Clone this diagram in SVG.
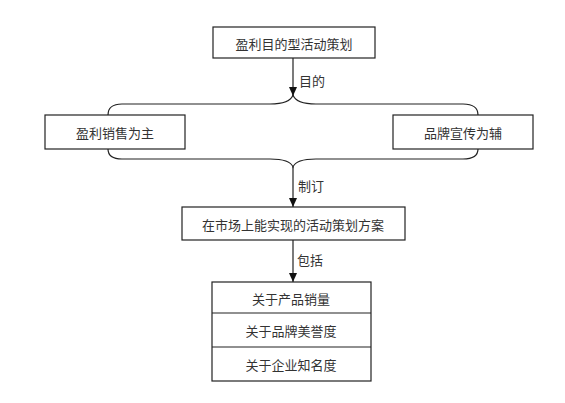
<svg xmlns="http://www.w3.org/2000/svg" width="565" height="403" viewBox="0 0 565 403">
<style>
.box{fill:#fff;stroke:#222;stroke-width:1.2}
.t{font-family:"Noto Sans CJK SC","Noto Sans",sans-serif;font-size:13px;fill:#333;text-anchor:middle;dominant-baseline:central}
.l{font-family:"Noto Sans CJK SC","Noto Sans",sans-serif;font-size:13px;fill:#333;dominant-baseline:central}
.c{fill:none;stroke:#222;stroke-width:1.2}
</style>
<defs>
<marker id="ah" markerWidth="10" markerHeight="10" refX="9" refY="5" orient="auto" markerUnits="userSpaceOnUse">
<path d="M0,1 L9,5 L0,9 Z" fill="#111"/>
</marker>
</defs>
<rect width="565" height="403" fill="#fff"/>
<g id="connectors">
<line class="c" x1="293" y1="58" x2="293" y2="96" marker-end="url(#ah)"/>
<path class="c" d="M108,115 Q108,104 122,104 L270,104 Q290,104 293,95 Q296,104 316,104 L463,104 Q478,104 478,115"/>
<path class="c" d="M108,149 Q108,159 122,159 L270,159 Q290,159 293,167 Q296,159 316,159 L463,159 Q478,159 478,149"/>
<line class="c" x1="293" y1="167" x2="293" y2="207" marker-end="url(#ah)"/>
<line class="c" x1="293" y1="240" x2="293" y2="282" marker-end="url(#ah)"/>
<text class="l" x="299" y="80">目的</text>
<text class="l" x="298" y="185">制订</text>
<text class="l" x="297" y="259">包括</text>
</g>
<g id="n1">
<rect class="box" x="213" y="27" width="162" height="31"/>
<text class="t" x="294" y="43">盈利目的型活动策划</text>
</g>
<g id="n2">
<rect class="box" x="45" y="115" width="140" height="34"/>
<text class="t" x="115" y="132">盈利销售为主</text>
</g>
<g id="n3">
<rect class="box" x="393" y="115" width="140" height="34"/>
<text class="t" x="463" y="132">品牌宣传为辅</text>
</g>
<g id="n4">
<rect class="box" x="182" y="207" width="223" height="33"/>
<text class="t" x="293" y="224">在市场上能实现的活动策划方案</text>
</g>
<g id="n5">
<rect class="box" x="212" y="282" width="159" height="99"/>
<line class="c" x1="212" y1="313" x2="371" y2="313"/>
<line class="c" x1="212" y1="347" x2="371" y2="347"/>
<text class="t" x="291" y="298">关于产品销量</text>
<text class="t" x="291" y="330">关于品牌美誉度</text>
<text class="t" x="291" y="364">关于企业知名度</text>
</g>
</svg>
